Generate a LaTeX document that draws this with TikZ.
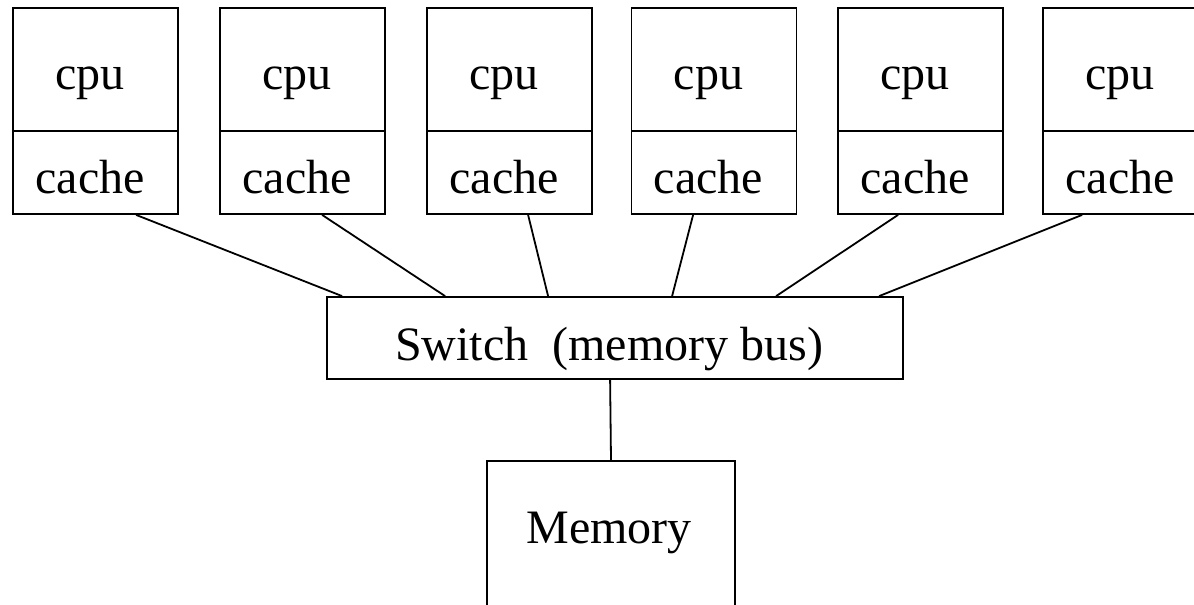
\documentclass[tikz,border=0pt]{standalone}
\usepackage{fontspec}
\setmainfont{Liberation Serif}
\usetikzlibrary{calc}
\begin{document}
\begin{tikzpicture}[x=0.5pt,y=-0.5pt,
  box/.style={draw, line width=0.9pt, rectangle, inner sep=0pt},
  cpubox/.style={box, minimum width=82.5pt, minimum height=61.5pt},
  cachebox/.style={box, minimum width=82.5pt, minimum height=41.5pt},
  lbl/.style={anchor=base, inner sep=0pt, font=\fontsize{24}{28}\selectfont},
  wire/.style={line width=0.9pt}]
\useasboundingbox (0,0) rectangle (1194,605);
\clip (0,0) rectangle (1194,605);
\foreach \i/\x in {1/95.5, 2/302.5, 3/509.5, 4/714, 5/920.5, 6/1125.5} {
  \node[cpubox] (cpu\i) at (\x,69.5) {};
  \node[cachebox] (cache\i) at (\x,172.5) {};
  \node[lbl] (cputxt\i) at (\x-5.5,89) {cpu};
  \node[lbl] (cachetxt\i) at (\x-5.5,193) {cache};
}
\node[box, minimum width=288pt, minimum height=41pt] (sw) at (615,338) {};
\node[lbl] (swtxt) at (609,360) {Switch\ \ (memory bus)};
\node[box, minimum width=124pt, minimum height=90pt] (mem) at (611,551) {};
\node[lbl] (memtxt) at (609,543) {Memory};
\foreach \i/\a/\b in {1/124/16, 2/103/119, 3/102/222, 4/62.5/346, 5/61/450, 6/40/553} {
  \draw[wire] ($(cache\i.south west)+(\a,0)$) -- ($(sw.north west)+(\b,0)$);
}
\draw[wire] ($(sw.south west)+(284,0)$) -- (mem.north);
\end{tikzpicture}
\end{document}
